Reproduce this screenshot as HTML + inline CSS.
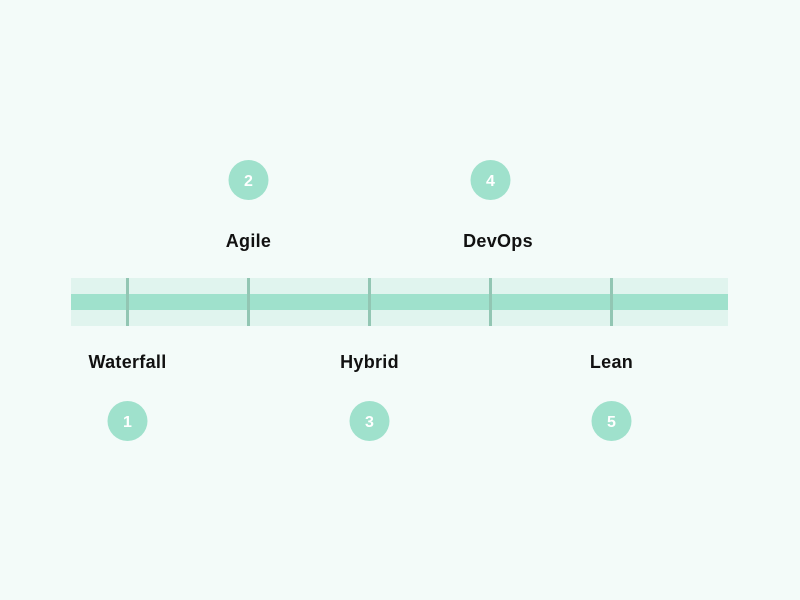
<!DOCTYPE html>
<html><head><style>body{margin:0;background:#f3fbf9}</style></head><body>
<svg width="800" height="600" xmlns="http://www.w3.org/2000/svg" style="display:block">
<rect width="800" height="600" fill="#f3fbf9"/>
<rect x="71" y="278" width="657" height="48" fill="#e0f4ee"/>
<rect x="71" y="294" width="657" height="16" fill="#9fe1cc"/>
<g fill="#92c6b3">
<rect x="126" y="278" width="3" height="48"/><rect x="247" y="278" width="3" height="48"/><rect x="368" y="278" width="3" height="48"/><rect x="489" y="278" width="3" height="48"/><rect x="610" y="278" width="3" height="48"/>
</g>
<g fill="#9fe1cc">
<circle cx="127.5" cy="421" r="20"/><circle cx="248.5" cy="180" r="20"/><circle cx="369.5" cy="421" r="20"/><circle cx="490.5" cy="180" r="20"/><circle cx="611.5" cy="421" r="20"/>
</g>
<g fill="#fff" font-family="Liberation Sans, sans-serif" font-weight="bold" font-size="16" text-anchor="middle">
<text x="127.5" y="427">1</text><text x="248.5" y="186">2</text><text x="369.5" y="427">3</text><text x="490.5" y="186">4</text><text x="611.5" y="427">5</text>
</g>
<g fill="#111" font-family="Liberation Sans, sans-serif" font-size="18" font-weight="bold" letter-spacing="0.3" text-anchor="middle">
<text x="127.5" y="368">Waterfall</text><text x="248.5" y="247">Agile</text><text x="369.5" y="368">Hybrid</text><text x="498" y="247">DevOps</text><text x="611.5" y="368">Lean</text>
</g>
</svg>
</body></html>
